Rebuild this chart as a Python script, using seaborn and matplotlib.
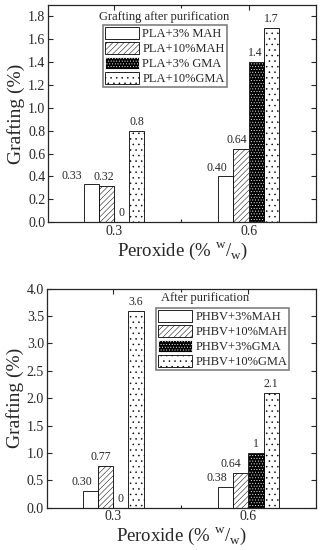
import matplotlib
matplotlib.use('Agg')
import matplotlib.pyplot as plt
import seaborn as sns
import pandas as pd
from matplotlib.patches import Patch, Rectangle
from matplotlib.ticker import MultipleLocator, FixedLocator

peroxide = ['0.3', '0.6']

pla_labels = ['PLA+3% MAH', 'PLA+10%MAH', 'PLA+3% GMA', 'PLA+10%GMA']
pla_mah3 = [0.33, 0.40]
pla_mah10 = [0.32, 0.64]
pla_gma3 = [0.0, 1.4]
pla_gma10 = [0.8, 1.7]
pla_text = [['0.33', '0.40'], ['0.32', '0.64'], ['0', '1.4'], ['0.8', '1.7']]

phbv_labels = ['PHBV+3%MAH', 'PHBV+10%MAH', 'PHBV+3%GMA', 'PHBV+10%GMA']
phbv_mah3 = [0.30, 0.38]
phbv_mah10 = [0.77, 0.64]
phbv_gma3 = [0.0, 1.0]
phbv_gma10 = [3.6, 2.1]
phbv_text = [['0.30', '0.38'], ['0.77', '0.64'], ['0', '1'], ['3.6', '2.1']]

# horizontal nudges of the value labels (points), per series and group
pla_nudge = [[-14, -6.5], [-2, -3], [0, -1], [0, 0]]
phbv_nudge = [[-6, -6], [-3.5, -7], [0, 0], [0, 0]]

sns.set_style('ticks')
plt.rcParams['font.family'] = ['Liberation Serif', 'DejaVu Serif']
plt.rcParams['mathtext.fontset'] = 'custom'
plt.rcParams['mathtext.rm'] = 'Liberation Serif'
plt.rcParams['hatch.linewidth'] = 0.35

styles = [('white', 'black', ''), ('white', 'black', '//////'),
          ('black', 'white', '......'), ('white', 'black', '...')]


def long_df(labels, series):
    rows = []
    for lab, vals in zip(labels, series):
        for p, v in zip(peroxide, vals):
            rows.append({'peroxide': p, 'sample': lab, 'grafting': v})
    return pd.DataFrame(rows)


def panel(ax, labels, series, texts, nudges, ymax, ystep, title, leg_anchor, title_xy):
    df = long_df(labels, series)
    sns.barplot(data=df, x='peroxide', y='grafting', hue='sample', hue_order=labels,
                order=peroxide, width=0.45, gap=0, ax=ax, legend=False,
                edgecolor='black', linewidth=0.6, saturation=1)
    for cont, (fc, hc, hatch), txts, nds in zip(ax.containers, styles, texts, nudges):
        for bar, t, dx in zip(cont, txts, nds):
            bar.set_facecolor(fc)
            bar.set_hatch(hatch)
            bar.set_edgecolor(hc)
            if hc == 'white':
                ax.add_patch(Rectangle(bar.get_xy(), bar.get_width(), bar.get_height(),
                                       fill=False, edgecolor='black', linewidth=0.6))
            ax.annotate(t, (bar.get_x() + bar.get_width() / 2, bar.get_height()),
                        xytext=(dx, 2), textcoords='offset points',
                        ha='center', va='bottom', fontsize=8.5)
    ax.set_xlim(-0.49, 1.5)
    ax.set_ylim(0, ymax)
    ax.yaxis.set_major_locator(MultipleLocator(ystep))
    ax.yaxis.set_major_formatter(plt.FormatStrFormatter('%.1f'))
    ax.xaxis.set_minor_locator(FixedLocator([0.5]))
    ax.tick_params(direction='in', labelsize=10, top=True, right=True, length=3.5,
                   width=0.8, pad=2)
    ax.tick_params(which='minor', direction='in', top=True, length=2, width=0.8)
    for s in ax.spines.values():
        s.set_linewidth(0.9)
    ax.set_ylabel('Grafting (%)', fontsize=14, labelpad=2)
    ax.set_xlabel(r'Peroxide (% $^{\mathregular{w}}$/$_{\mathregular{w}}$)', fontsize=13.5,
                  labelpad=2)
    handles = [Patch(facecolor=fc, edgecolor=hc, hatch=h, linewidth=0.6)
               for fc, hc, h in styles]
    leg = ax.legend(handles, labels, loc='upper left', bbox_to_anchor=leg_anchor,
                    fontsize=9, handlelength=2.7, handleheight=1.15, labelspacing=0.12,
                    handletextpad=0.3, borderpad=0.15, borderaxespad=0, frameon=True,
                    fancybox=False, edgecolor='#808080', framealpha=1)
    leg.get_frame().set_linewidth(1.2)
    ax.text(title_xy[0], title_xy[1], title, transform=ax.transAxes, fontsize=9,
            ha='center', va='bottom')


fig = plt.figure(figsize=(3.23, 5.5), dpi=100)
ax1 = fig.add_axes([0.149, 0.596, 0.829, 0.395])
ax2 = fig.add_axes([0.145, 0.077, 0.833, 0.398])

panel(ax1, pla_labels, [pla_mah3, pla_mah10, pla_gma3, pla_gma10], pla_text, pla_nudge,
      1.9, 0.2, 'Grafting after purification', (0.205, 0.908), (0.435, 0.915))
panel(ax2, phbv_labels, [phbv_mah3, phbv_mah10, phbv_gma3, phbv_gma10], phbv_text,
      phbv_nudge, 4.0, 0.5, 'After purification', (0.407, 0.912), (0.589, 0.93))

fig.savefig('out.png', dpi=100)
